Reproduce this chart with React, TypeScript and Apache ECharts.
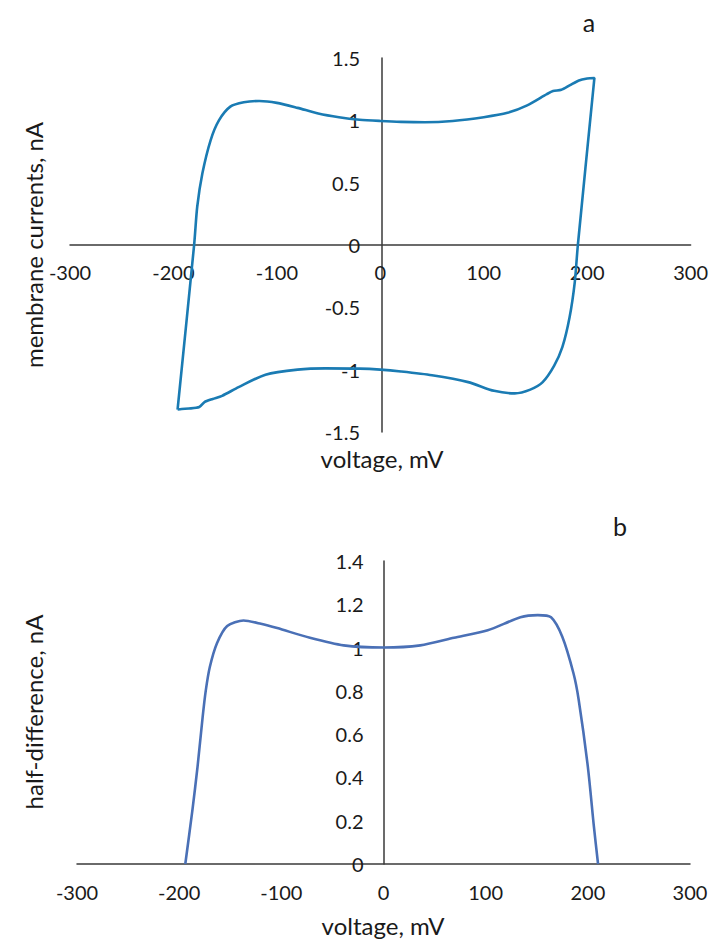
import React, { useEffect, useRef } from "react";
import * as echarts from "echarts";

const loopX = [-196, -180, -177, -172, -164, -156, -145, -132, -117, -100, -80, -60, -40, -20, 0, 20, 43, 70, 100, 123, 142, 161, 167, 175, 183, 192, 200, 207,
  191, 188, 183, 176, 168, 157, 145, 130, 110, 85, 50, 20, 0, -20, -53, -80, -111, -137, -153, -162, -170, -175, -185, -192, -196];
const loopY = [-1.32, 0, 0.307, 0.575, 0.842, 1.0, 1.11, 1.145, 1.155, 1.14, 1.1, 1.055, 1.025, 1.005, 0.995, 0.988, 0.985, 0.995, 1.025, 1.06, 1.12, 1.21, 1.235, 1.245, 1.28, 1.32, 1.335, 1.34,
  0, -0.3, -0.58, -0.82, -0.97, -1.1, -1.16, -1.19, -1.17, -1.1, -1.045, -1.015, -1.0, -0.992, -0.99, -1.0, -1.04, -1.14, -1.21, -1.235, -1.26, -1.3, -1.312, -1.315, -1.32];

const halfX = [-194, -187, -182, -177, -174, -170, -163, -153, -137, -120, -104, -72, -39, 0, 36, 69, 102, 134, 151, 164, 175, 186, 191, 200, 206, 210];
const halfY = [0, 0.25, 0.45, 0.68, 0.8, 0.91, 1.02, 1.1, 1.125, 1.11, 1.09, 1.045, 1.01, 1.0, 1.01, 1.045, 1.08, 1.14, 1.15, 1.14, 1.05, 0.88, 0.76, 0.45, 0.17, 0];

const xRange = [-300, 300, 100];
const yRangeA = [-1.5, 1.5, 0.5];
const yRangeB = [0, 1.4, 0.2];

const FONT = "Lato";
const AXIS_COLOR = "#3a3a3a";
const TEXT_COLOR = "#1a1a1a";

const gridA = { left: 70, top: 58, width: 624, height: 374 };
const gridB = { left: 77, top: 561, width: 613, height: 303 };

// distance from the grid's low edge to the value 0 on a scale
const zeroOffset = (range: number[], size: number) => size * (0 - range[0]) / (range[1] - range[0]);

export default function App() {
  const ref = useRef<HTMLDivElement>(null);
  useEffect(() => {
    if (!ref.current) return;
    const chart = echarts.init(ref.current, null, { renderer: "svg" });
    const axisCommon = {
      type: "value" as const,
      axisLine: { show: true, onZero: false, lineStyle: { color: AXIS_COLOR, width: 1.5 } },
      axisTick: { show: false },
      splitLine: { show: false },
    };
    const lbl = (margin: number) => ({ margin, fontFamily: FONT, fontSize: 20, lineHeight: 18, color: TEXT_COLOR });
    const title = (text: string, size: number) => ({ text, font: `${size}px ${FONT}`, lineHeight: 20, fill: TEXT_COLOR, align: "center", verticalAlign: "middle" });
    chart.setOption({
      animation: false,
      backgroundColor: "#ffffff",
      grid: [gridA, gridB],
      xAxis: [
        { ...axisCommon, gridIndex: 0, position: "bottom", offset: -zeroOffset(yRangeA, gridA.height),
          min: xRange[0], max: xRange[1], interval: xRange[2], axisLabel: lbl(18) },
        { ...axisCommon, gridIndex: 1, position: "bottom", offset: -zeroOffset(yRangeB, gridB.height),
          min: xRange[0], max: xRange[1], interval: xRange[2], axisLabel: lbl(19) },
      ],
      yAxis: [
        { ...axisCommon, gridIndex: 0, position: "left", offset: -zeroOffset(xRange, gridA.width),
          min: yRangeA[0], max: yRangeA[1], interval: yRangeA[2], axisLabel: lbl(22) },
        { ...axisCommon, gridIndex: 1, position: "left", offset: -zeroOffset(xRange, gridB.width),
          min: yRangeB[0], max: yRangeB[1], interval: yRangeB[2], axisLabel: lbl(20) },
      ],
      series: [
        {
          type: "line", xAxisIndex: 0, yAxisIndex: 0, showSymbol: false, smooth: 0.25,
          data: loopX.map((x, i) => [x, loopY[i]]),
          lineStyle: { color: "#1a7bb3", width: 2.6 },
        },
        {
          type: "line", xAxisIndex: 1, yAxisIndex: 1, showSymbol: false, smooth: 0.25,
          data: halfX.map((x, i) => [x, halfY[i]]),
          lineStyle: { color: "#4a70b6", width: 2.6 },
        },
      ],
      graphic: [
        { type: "text", x: 589, y: 22, style: title("a", 25) },
        { type: "text", x: 620, y: 526, style: title("b", 25) },
        { type: "text", x: 382, y: 458, style: title("voltage, mV", 24) },
        { type: "text", x: 383, y: 925, style: title("voltage, mV", 24) },
        { type: "text", x: 33, y: 245, rotation: Math.PI / 2, style: title("membrane currents, nA", 24) },
        { type: "text", x: 33, y: 712, rotation: Math.PI / 2, style: title("half-difference, nA", 24) },
      ],
    });
    return () => chart.dispose();
  }, []);
  return <div ref={ref} style={{ position: "fixed", left: 0, top: 0, width: 711, height: 942, background: "#fff" }} />;
}
